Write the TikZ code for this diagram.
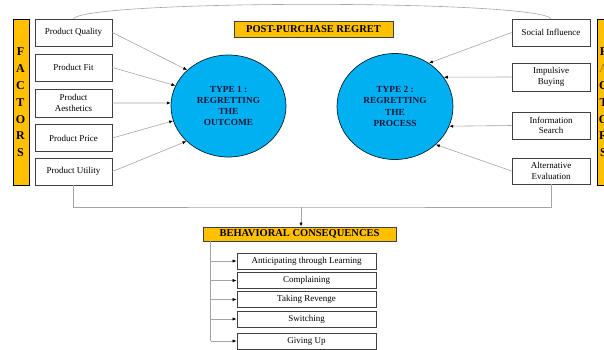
\documentclass[tikz,border=0pt]{standalone}
\usepackage{fontspec}
\setmainfont{Liberation Serif}
\usetikzlibrary{arrows.meta,shapes.geometric}
\definecolor{gold}{RGB}{255,192,0}
\definecolor{sky}{RGB}{0,176,240}
\definecolor{lgray}{RGB}{165,165,165}
\definecolor{dgray}{RGB}{64,64,64}
\definecolor{navy}{RGB}{20,25,60}
\definecolor{amber}{RGB}{170,110,0}
\begin{document}
\begin{tikzpicture}[x=1pt,y=-1pt,
 bx/.style={draw=dgray,line width=0.8pt,fill=white,minimum width=77pt,minimum height=27pt,inner sep=1pt,align=center,font=\fontsize{9}{10.5}\selectfont},
 sub/.style={draw=dgray,line width=0.8pt,fill=white,minimum width=139pt,minimum height=16pt,inner sep=0pt,font=\fontsize{9}{10}\selectfont},
 bar/.style={draw=black,line width=0.6pt,fill=gold,minimum width=16pt,minimum height=166pt,inner sep=0pt},
 barletters/.style={inner sep=0pt,align=center,font=\bfseries\fontsize{12}{16.8}\selectfont},
 ttl/.style={draw=dgray,line width=0.8pt,fill=gold,inner sep=0pt,font=\bfseries\fontsize{10.5}{12}\selectfont},
 ell/.style={ellipse,draw=black!80!sky,line width=0.7pt,fill=sky,inner sep=0pt,align=center,text=navy,font=\bfseries\fontsize{9.3}{11.3}\selectfont},
 ln/.style={draw=lgray,line width=0.6pt},
 arr/.style={ln,-{Latex[length=4pt,width=3.2pt,color=black]}}]
\useasboundingbox (0,0) rectangle (604,349);
\clip (0,0) rectangle (604,349);

% side bars
\node[bar] (lbar) at (21,102) {};
\node[barletters] (ltxt) at (20.5,102.5) {F\\A\\C\\T\\O\\R\\S};
\node[bar] (rbar) at (605,102) {};
\node[barletters] (rtxt) at (603.5,102.5) {F\\{\mdseries\color{amber}A}\\C\\T\\O\\R\\S};

% left factor boxes
\node[bx] (pq) at (73.5,32.5) {Product Quality};
\node[bx] (pf) at (73.5,67.5) {Product Fit};
\node[bx,minimum height=28pt] (pa) at (73.5,103) {Product\\Aesthetics};
\node[bx] (pp) at (73.5,138) {Product Price};
\node[bx] (pu) at (73.5,171.5) {Product Utility};

% right factor boxes
\node[bx,minimum width=78pt] (si) at (551,32.5) {Social Influence};
\node[bx,minimum width=78pt,minimum height=28pt] (ib) at (551,77) {Impulsive\\Buying};
\node[bx,minimum width=78pt] (is) at (551,125.5) {Information\\Search};
\node[bx,minimum width=78pt,minimum height=26pt] (ae) at (551,171) {Alternative\\Evaluation};

% title
\node[ttl,minimum width=159pt,minimum height=16pt] (ttl) at (313.5,29) {POST-PURCHASE REGRET};

% ellipses
\node[ell,minimum width=115pt,minimum height=102pt] (c1) at (228.5,106) {TYPE 1 :\\REGRETTING\\THE\\OUTCOME};
\node[ell,minimum width=116pt,minimum height=106pt] (c2) at (395,106.5) {TYPE 2 :\\REGRETTING\\THE\\PROCESS};

% arrows into type 1
\draw[arr] (pq.east) -- (c1.139.7);
\draw[arr] (pf.east) -- (c1.159.8);
\draw[arr] (pa.east) -- (c1.177);
\draw[arr] (pp.east) -- (c1.195.8);
\draw[arr] (pu.east) -- (c1.220.3);

% arrows into type 2
\draw[arr] (si.west) -- (c2.52.8);
\draw[arr] (ib.west) -- (c2.31.5);
\draw[arr] (is.west) -- (c2.340.7);
\draw[arr] (ae.west) -- (c2.317.5);

% top curve
\draw[ln] (pq.north) .. controls +(16,-19) and +(-16,-19) .. (si.north);

% bottom collector
\coordinate (j) at (301,207);
\draw[ln] (pu.south) |- (j) -| (ae.south);

% behavioral consequences
\node[ttl,minimum width=193pt,minimum height=14pt] (bc) at (299.5,234) {BEHAVIORAL CONSEQUENCES};
\draw[arr] (j) -- (bc.north -| j);

\node[sub] (b1) at (306.5,261) {Anticipating through Learning};
\node[sub] (b2) at (306.5,280.5) {Complaining};
\node[sub] (b3) at (306.5,299.5) {Taking Revenge};
\node[sub] (b4) at (306.5,319) {Switching};
\node[sub] (b5) at (306.5,341) {Giving Up};

\coordinate (bl) at ([xshift=8pt]bc.south west);
\draw[ln] (bl) -- (bl |- b5.west);
\foreach \b in {b1,b2,b3,b4,b5}{
  \draw[arr] (bl |- \b.west) -- (\b.west);
}
\end{tikzpicture}
\end{document}
